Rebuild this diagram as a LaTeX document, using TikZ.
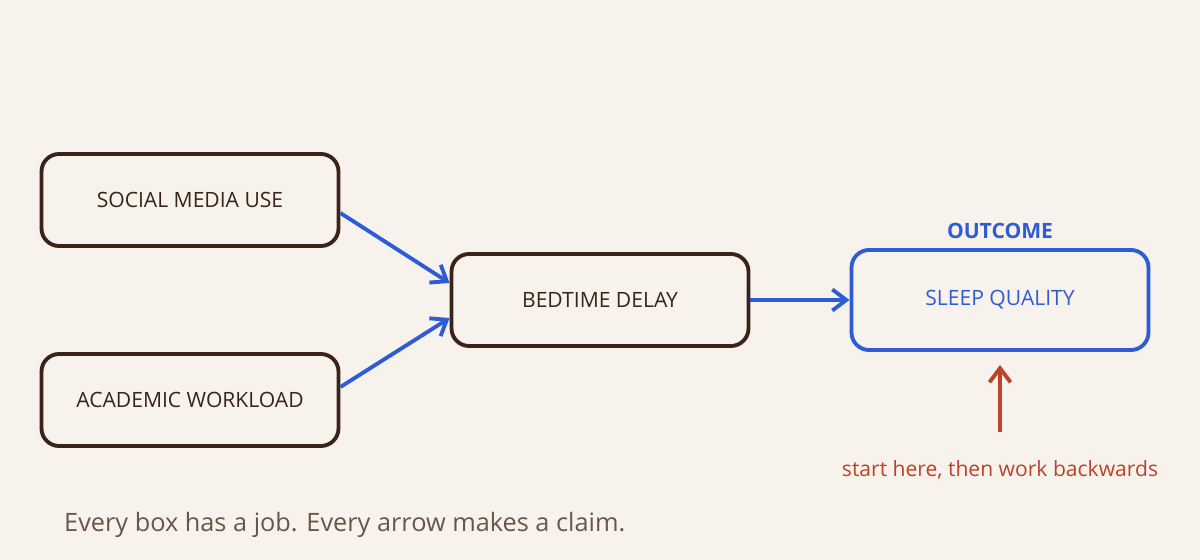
\documentclass[tikz,border=0pt]{standalone}
\usepackage{fontspec}
\setmainfont{Open Sans}
\usetikzlibrary{arrows.meta,positioning}
\definecolor{bgcol}{HTML}{F7F2EC}
\definecolor{inkcol}{HTML}{3A2418}
\definecolor{bluecol}{HTML}{2F5BD6}
\definecolor{redcol}{HTML}{B8442A}
\definecolor{graycol}{HTML}{6A5548}
\begin{document}
\begin{tikzpicture}[x=0.02cm, y=-0.02cm,
  box/.style = {shape=rectangle, rounded corners=10pt, draw=inkcol, line width=2.2pt,
    minimum width=297*0.02cm, minimum height=92*0.02cm, align=center, text=inkcol, font=\large},
  link/.style = {-{Straight Barb[length=8pt,width=12pt]}, draw=bluecol, line width=2.2pt}]
  \fill[bgcol] (0,0) rectangle (1200,560);
  \node[box] (social) at (190,200) {SOCIAL MEDIA USE};
  \node[box] (academic) at (190,400) {ACADEMIC WORKLOAD};
  \node[box] (bedtime) at (600,300) {BEDTIME DELAY};
  \node[box, draw=bluecol, text=bluecol, minimum height=100*0.02cm] (sleep) at (1000,300) {SLEEP QUALITY};
  \node[text=bluecol, font=\large\bfseries, above=2pt of sleep] (outcome) {OUTCOME};
  \node[text=redcol, font=\large] (hint) at (1000,470) {start here, then work backwards};
  \coordinate (hinttop) at (1000,432);
  \node[text=graycol, font=\Large, anchor=west] (motto) at (58,525) {Every box has a job. Every arrow makes a claim.};
  % connectors
  \draw[link] (social.east) ++(0,13) -- (bedtime.west |- 0,283);
  \draw[link] (academic.east) ++(0,-13) -- (bedtime.west |- 0,318);
  \draw[link] (bedtime) -- (sleep);
  \draw[link, draw=redcol] (hinttop) -- (1000,365);
\end{tikzpicture}
\end{document}
